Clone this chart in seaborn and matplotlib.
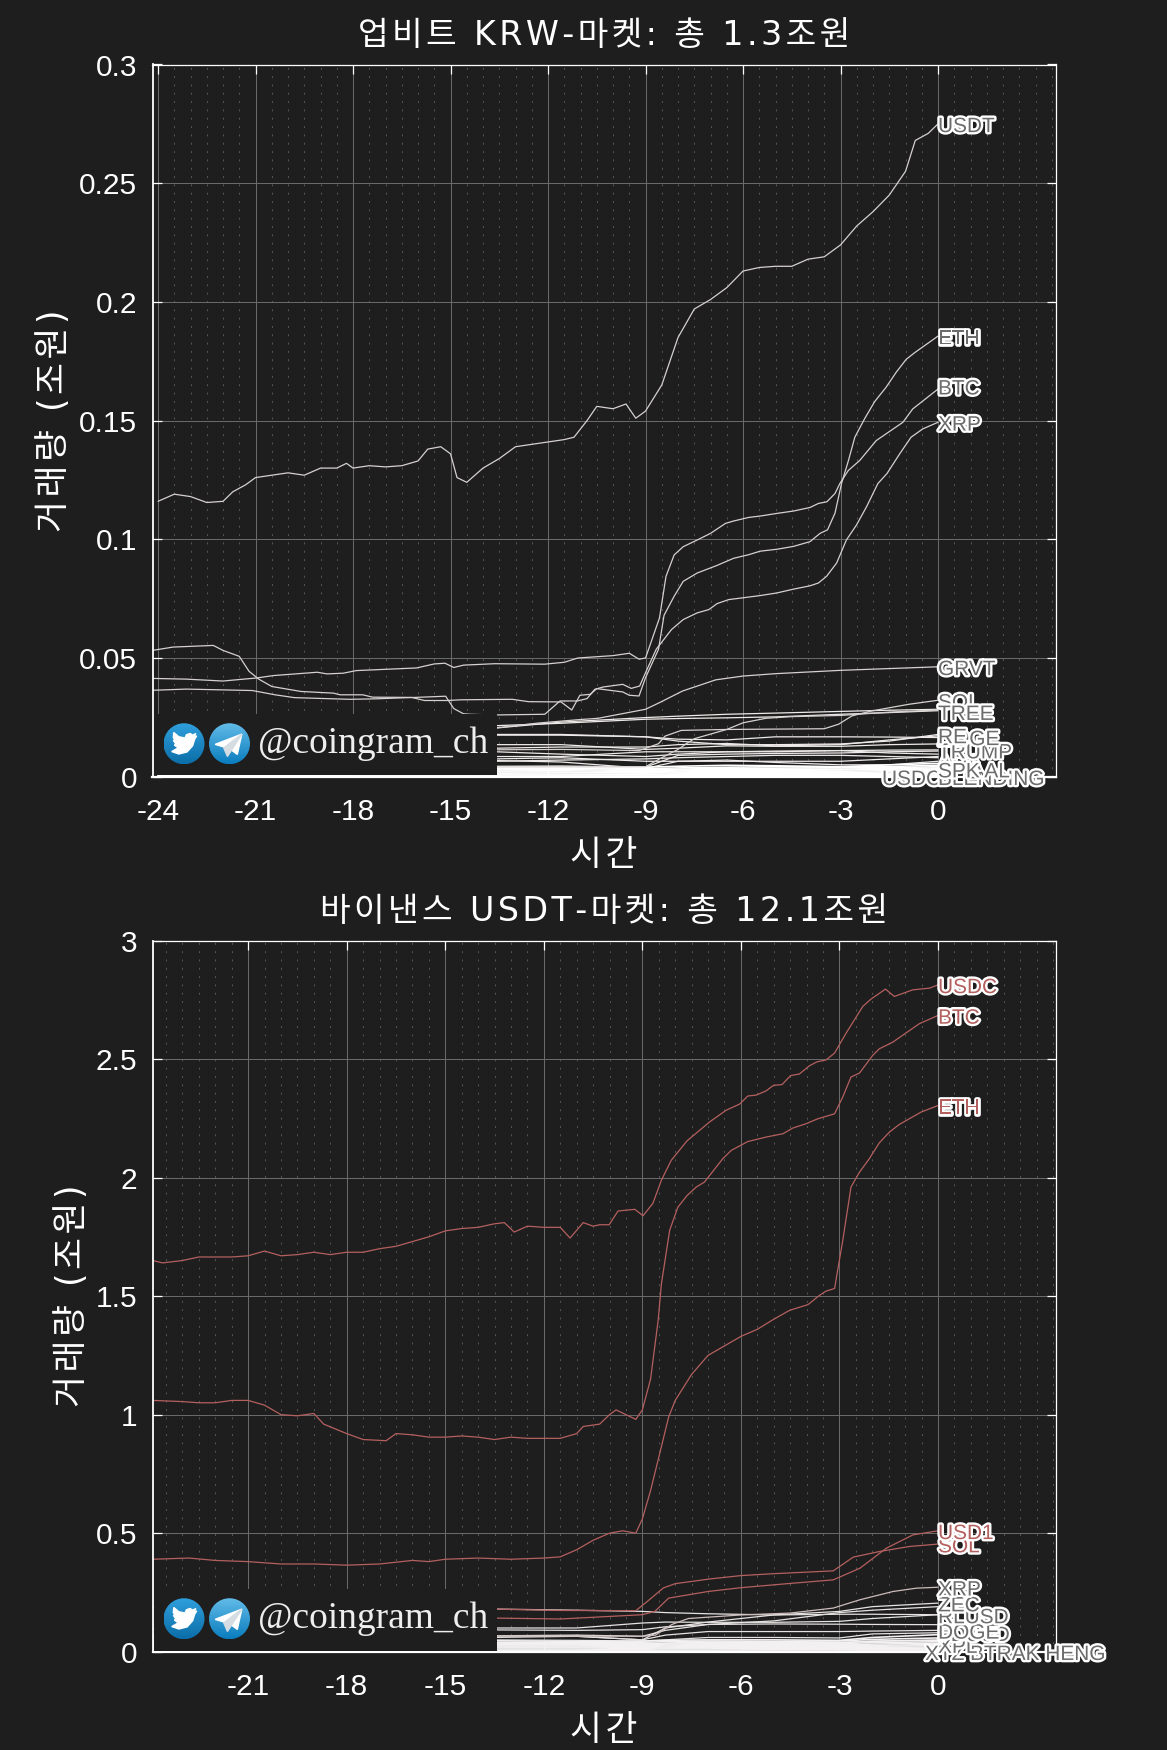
import matplotlib
matplotlib.use('Agg')
import matplotlib.pyplot as plt
import matplotlib.patheffects as pe
from matplotlib.patches import Circle, Polygon
import numpy as np
import seaborn as sns

# --- upbit: labelled series ---
UPBIT_USDT_H = [-24, -23.5, -23, -22.5, -22, -21.7, -21.3, -21, -20.5, -20, -19.5, -19, -18.5, -18.2, -18, -17.5, -17, -16.5, -16, -15.7, -15.3, -15, -14.8, -14.5, -14, -13.5, -13, -12.5, -12, -11.5, -11.2, -10.8, -10.5, -10, -9.6, -9.3, -9, -8.5, -8, -7.5, -7, -6.5, -6, -5.5, -5, -4.5, -4, -3.5, -3, -2.5, -2, -1.5, -1, -0.7, -0.3, 0]
UPBIT_USDT = [.116, .119, .118, .1155, .116, .120, .123, .126, .127, .128, .127, .130, .130, .132, .130, .131, .1305, .131, .133, .138, .139, .136, .126, .124, .130, .134, .139, .140, .141, .142, .143, .150, .156, .155, .157, .151, .154, .165, .185, .197, .201, .206, .213, .2145, .215, .215, .218, .219, .224, .232, .238, .245, .255, .268, .271, .275]
UPBIT_BTC_H = [-24.17, -23.13, -22, -20.96, -20.45, -19.1, -18.8, -18.3, -17.9, -16.05, -15.5, -15.17, -14.9, -14.6, -13.64, -12.1, -11.5, -11.08, -10, -9.5, -9.2, -9, -8.57, -8.37, -8.12, -7.84, -7.41, -7, -6.54, -6.29, -5.83, -5.47, -4.96, -4.45, -3.94, -3.68, -3.42, -3.17, -3.02, -2.76, -2.41, -1.9, -1.08, -.78, 0]
UPBIT_BTC = [.0414, .0411, .0403, .0416, .0426, .044, .0433, .0436, .0447, .0458, .0475, .0478, .046, .047, .0476, .0474, .0482, .05, .051, .052, .0495, .05, .0669, .0844, .0934, .0969, .0997, .1025, .1067, .1077, .1092, .1098, .1109, .1119, .1134, .1151, .1158, .1193, .1235, .129, .1332, .1416, .1493, .1549, .1633]
UPBIT_ETH_H = [-24.17, -23.54, -22.3, -22, -21.5, -21.2, -20.9, -20.5, -19.6, -18.6, -18.4, -17.7, -17.4, -16.2, -15.8, -15.1, -14.66, -13.1, -12.6, -11.6, -11.27, -11.02, -10.7, -10.5, -9.7, -9.5, -9.2, -9, -8.6, -8.43, -8.12, -7.84, -7.41, -6.8, -6.29, -5.83, -5.47, -4.96, -4.45, -3.94, -3.63, -3.4, -3.17, -2.97, -2.76, -2.56, -2.25, -1.95, -1.6, -1.29, -.98, -.72, 0]
UPBIT_ETH = [.0532, .0546, .0553, .0532, .0507, .0444, .0411, .038, .0359, .0352, .0345, .0345, .0335, .0334, .0321, .0321, .0324, .0326, .0316, .0315, .0281, .0343, .0347, .0371, .0357, .0343, .034, .0417, .0537, .068, .076, .0823, .0858, .089, .092, .0935, .095, .0958, .097, .099, .1025, .104, .111, .1235, .133, .143, .151, .158, .164, .1703, .1758, .1786, .1856]
UPBIT_XRP_H = [-24.17, -23.13, -21.1, -20.4, -19.8, -18.1, -17.3, -15.9, -15.15, -14.9, -14.6, -14.4, -13.64, -12.1, -11.63, -11.1, -10.8, -10.56, -10.3, -9.7, -9.44, -9.18, -9, -8.67, -8.2, -7.84, -7.41, -7.05, -6.8, -6.44, -5.98, -5.47, -4.96, -4.45, -3.94, -3.68, -3.43, -3.12, -2.82, -2.51, -2.2, -1.85, -1.57, -1.18, -.83, -.47, 0]
UPBIT_XRP = [.0364, .0369, .0363, .0345, .0333, .0326, .0328, .0335, .0339, .0287, .0265, .0263, .026, .0263, .0319, .0319, .0329, .0368, .0378, .0389, .0372, .0382, .0438, .0537, .062, .0662, .069, .0704, .0729, .0746, .0754, .0763, .0774, .079, .0804, .0816, .0844, .09, .0997, .106, .1137, .1235, .1277, .136, .143, .1465, .1493]
UPBIT_GRVT_H = [-24, -13.64, -12.3, -11.08, -10.46, -9, -8.57, -7.86, -6.84, -6, -5, -3, 0]
UPBIT_GRVT = [.018, .0205, .0226, .024, .0246, .0284, .0312, .0361, .0408, .0424, .0434, .0448, .0463]
UPBIT_SOL_H = [-24, -11.6, -9.2, -8.6, -8.4, -7.9, -6.5, -3.5, -3.06, -2.65, -2.04, -.9, 0]
UPBIT_SOL = [.0105, .0115, .011, .0139, .0171, .0195, .0199, .0202, .0221, .0256, .0277, .0305, .0322]
UPBIT_RISER_H = [-24, -9, -8.5, -8, -7.7, -7.5, -6.5, -6, -5.3, -4.5, -3, -1.5, 0]
UPBIT_RISER = [.004, .0042, .008, .0115, .0143, .016, .0199, .0227, .0246, .0253, .0258, .0272, .0281]

# --- upbit: the flatter lines share one set of hours ---
UPBIT_MINOR_H = [-24, -13.6, -11.6, -9, -8, -6.5, -5, -3, -1.5, 0]
UPBIT_TREE = [.019, .0205, .023, .0249, .0255, .0263, .0268, .0275, .028, .0284]
UPBIT_M01 = [.020, .0215, .0225, .0242, .0245, .0248, .0252, .0263, .027, .0278]
UPBIT_M02 = [.016, .0175, .0175, .0168, .0158, .0155, .0168, .0168, .0167, .0165]
UPBIT_RE = [.018, .0178, .0178, .0168, .0150, .0135, .0135, .0138, .015, .0178]
UPBIT_DOGE = [.012, .012, .0125, .0125, .0135, .014, .013, .0135, .0155, .0172]
UPBIT_M03 = [.011, .0135, .0135, .0115, .012, .013, .0128, .0128, .0135, .0138]
UPBIT_TRUMP = [.009, .0105, .0095, .0085, .0095, .0105, .0108, .0110, .0112, .0113]
UPBIT_M04 = [.007, .0085, .0085, .0105, .0105, .0105, .0105, .0110, .010, .0095]
UPBIT_M05 = [.003, .0030, .0035, .0040, .0090, .0095, .0098, .0100, .0105, .0108]
UPBIT_M06 = [.006, .0065, .0070, .0075, .0080, .0085, .0090, .0090, .0085, .0080]
UPBIT_M07 = [.005, .0075, .0080, .0065, .0065, .0065, .0065, .0065, .0075, .0085]
UPBIT_M08 = [.004, .0068, .0062, .0035, .0065, .0070, .0060, .0050, .0050, .0065]
UPBIT_L01 = [.0042, .0043, .0044, .0040, .0044, .0048, .0046, .0042, .0050, .0056]
UPBIT_L02 = [.0036, .0038, .0040, .0034, .0037, .0040, .0042, .0040, .0043, .0048]
UPBIT_L03 = [.0031, .0034, .0035, .0030, .0032, .0035, .0036, .0037, .0038, .0042]
UPBIT_L04 = [.0026, .0029, .0030, .0026, .0028, .0031, .0031, .0032, .0034, .0037]
UPBIT_L05 = [.0022, .0024, .0025, .0022, .0024, .0026, .0027, .0028, .0030, .0032]
UPBIT_L06 = [.0018, .0020, .0020, .0018, .0020, .0022, .0023, .0023, .0025, .0027]
UPBIT_L07 = [.0014, .0015, .0016, .0015, .0016, .0017, .0018, .0018, .0020, .0022]
UPBIT_L08 = [.0010, .0011, .0011, .0010, .0012, .0013, .0013, .0014, .0015, .0017]
UPBIT_L09 = [.0006, .0007, .0007, .0007, .0008, .0008, .0009, .0009, .0010, .0012]
UPBIT_L10 = [.0003, .0003, .0003, .0003, .0004, .0004, .0004, .0005, .0005, .0006]

# --- binance ---
BIN_USDC_H = [-23.9, -23.6, -23, -22.5, -21.5, -21, -20.5, -20, -19.5, -19, -18.5, -18, -17.5, -17, -16.5, -16, -15.5, -15, -14.5, -14, -13.5, -13.2, -12.9, -12.5, -12, -11.5, -11.2, -10.8, -10.5, -10.3, -10.01, -9.74, -9.23, -8.98, -8.68, -8.42, -8.12, -7.64, -6.95, -6.45, -6.04, -5.79, -5.53, -5.23, -5.01, -4.75, -4.49, -4.22, -3.91, -3.69, -3.41, -3.15, -2.8, -2.29, -2.04, -1.6, -1.33, -.77, -.26, 0]
BIN_USDC = [1.65, 1.64, 1.65, 1.665, 1.665, 1.67, 1.69, 1.67, 1.675, 1.685, 1.675, 1.685, 1.685, 1.70, 1.71, 1.73, 1.75, 1.775, 1.785, 1.79, 1.805, 1.81, 1.77, 1.795, 1.79, 1.79, 1.745, 1.81, 1.795, 1.801, 1.801, 1.859, 1.866, 1.839, 1.891, 1.989, 2.073, 2.155, 2.235, 2.284, 2.31, 2.344, 2.348, 2.366, 2.389, 2.392, 2.43, 2.437, 2.472, 2.488, 2.496, 2.525, 2.609, 2.722, 2.753, 2.795, 2.764, 2.792, 2.799, 2.813]
BIN_BTC_H = [-23.9, -23, -22.5, -22, -21.5, -21, -20.5, -20, -19.5, -19, -18.7, -18, -17.5, -16.8, -16.5, -16, -15.5, -15, -14.5, -14, -13.5, -13, -12.5, -12, -11.5, -11, -10.8, -10.3, -10, -9.8, -9.5, -9.2, -9, -8.75, -8.52, -8.42, -8.17, -7.92, -7.64, -7.36, -7.11, -6.55, -6.29, -5.79, -5.23, -4.72, -4.42, -4.02, -3.66, -3.15, -2.9, -2.65, -2.39, -1.99, -1.79, -1.38, -1.08, -.57, 0]
BIN_BTC = [1.06, 1.055, 1.05, 1.05, 1.06, 1.06, 1.04, 1.0, .995, 1.005, .96, .92, .895, .89, .92, .915, .905, .905, .91, .905, .895, .905, .90, .90, .90, .92, .95, .96, 1.0, 1.02, 1.0, .98, 1.02, 1.15, 1.397, 1.552, 1.777, 1.875, 1.924, 1.96, 1.981, 2.08, 2.115, 2.152, 2.171, 2.185, 2.209, 2.227, 2.248, 2.269, 2.34, 2.424, 2.441, 2.515, 2.543, 2.571, 2.60, 2.649, 2.684]
BIN_ETH_H = [-23.9, -22.8, -22, -21, -20, -19, -18, -17, -16, -15.5, -15, -14, -13, -12, -11.5, -11, -10.5, -10, -9.6, -9.2, -9, -8.75, -8.5, -8.2, -8, -7.5, -7, -6.5, -6, -5.5, -5.03, -4.52, -3.96, -3.61, -3.41, -3.15, -2.9, -2.65, -2.39, -2.09, -1.79, -1.48, -1.18, -.52, 0]
BIN_ETH = [.39, .395, .385, .38, .37, .37, .365, .37, .385, .38, .39, .395, .39, .395, .40, .43, .47, .50, .51, .50, .56, .68, .82, .99, 1.06, 1.17, 1.25, 1.29, 1.33, 1.36, 1.40, 1.44, 1.464, 1.503, 1.521, 1.532, 1.735, 1.96, 2.023, 2.08, 2.146, 2.192, 2.224, 2.276, 2.304]
BIN_USD1_H = [-24, -13.6, -11.5, -9, -8.62, -8.2, -7, -6, -4.5, -3.19, -2.38, -1.57, -.76, 0]
BIN_USD1 = [.14, .142, .138, .156, .17, .226, .254, .27, .288, .303, .352, .437, .493, .51]
BIN_SOL_H = [-24, -13.6, -11.5, -9.2, -8.85, -8.36, -8, -6.94, -6, -5.02, -3.19, -2.58, -1.77, -.86, 0]
BIN_SOL = [.19, .18, .174, .173, .212, .269, .287, .307, .321, .329, .341, .399, .423, .444, .454]
BIN_XRP_H = [-24, -13.6, -9, -8.6, -8.1, -7.6, -6, -4.5, -3.19, -2.38, -1.37, -.66, 0]
BIN_XRP = [.065, .067, .065, .07, .115, .14, .155, .163, .184, .219, .254, .268, .272]

BIN_MINOR_H = [-24, -13.6, -11, -9, -8.3, -7, -5, -3, -2, 0]
BIN_ZEC = [.06, .06, .065, .05, .10, .125, .155, .17, .19, .205]
BIN_RLUSD = [.10, .10, .10, .121, .125, .124, .124, .128, .14, .156]
BIN_DOGE = [.07, .067, .065, .05, .07, .085, .085, .085, .087, .09]
BIN_FDUSD = [.05, .05, .048, .045, .05, .06, .06, .058, .075, .08]
BIN_XPL = [.03, .03, .03, .025, .035, .04, .04, .04, .045, .05]
BIN_M01 = [.07, .067, .07, .065, .09, .115, .13, .165, .175, .19]
BIN_M02 = [.095, .092, .09, .093, .105, .115, .117, .116, .115, .114]
BIN_M03 = [.185, .18, .175, .17, .165, .16, .155, .158, .158, .156]
BIN_L01 = [.046, .046, .044, .045, .048, .050, .050, .048, .060, .072]
BIN_L02 = [.040, .040, .040, .040, .042, .045, .044, .045, .052, .058]
BIN_L03 = [.036, .036, .036, .035, .036, .040, .038, .038, .044, .048]
BIN_L04 = [.032, .032, .032, .030, .032, .034, .034, .034, .038, .042]
BIN_L05 = [.028, .028, .028, .026, .028, .030, .030, .030, .032, .036]
BIN_L06 = [.024, .024, .024, .022, .024, .026, .026, .026, .027, .030]
BIN_L07 = [.020, .020, .020, .018, .020, .022, .022, .022, .023, .025]
BIN_L08 = [.016, .016, .016, .014, .016, .017, .017, .018, .018, .020]
BIN_L09 = [.011, .011, .011, .010, .012, .012, .013, .013, .014, .015]
BIN_L10 = [.006, .006, .006, .006, .007, .007, .008, .008, .009, .010]
BIN_L11 = [.002, .002, .002, .002, .003, .003, .003, .003, .004, .004]

TOP_LABELS = ['USDC', 'BLENDING', 'ADA', 'TRUMP', 'DOGE', 'RE', 'SOL', 'TREE', 'GRVT', 'XRP', 'BTC', 'ETH', 'USDT', 'SPK AL']
TOP_LABEL_Y = [.0, .0, .0065, .0112, .0168, .0176, .0322, .0274, .0463, .1493, .1645, .1856, .275, .0032]
TOP_LABEL_DX = [-56, 0, 0, 0, 0, 0, 0, 0, 0, 0, 0, 0, 0, 0]
BOT_LABELS = ['XTZ', 'BTRAK HENG', 'XPL', 'FDUSD', 'DOGE', 'RLUSD', 'ZEC', 'XRP', 'SOL', 'USD1', 'ETH', 'BTC', 'USDC']
BOT_LABEL_Y = [.0, .0, .03, .08, .09, .155, .205, .272, .454, .51, 2.304, 2.684, 2.813]
BOT_LABEL_DX = [-13, 32, 0, 0, 0, 0, 0, 0, 0, 0, 0, 0, 0]
BOT_RED = ['USD1', 'SOL', 'ETH', 'BTC', 'USDC']

Y_TICKS_TOP = [0, .05, .1, .15, .2, .25, .3]
Y_LABELS_TOP = ['0', '0.05', '0.1', '0.15', '0.2', '0.25', '0.3']
Y_TICKS_BOT = [0, .5, 1, 1.5, 2, 2.5, 3]
Y_LABELS_BOT = ['0', '0.5', '1', '1.5', '2', '2.5', '3']
X_TICKS = [-24, -21, -18, -15, -12, -9, -6, -3, 0]

BG = '#1e1e1e'
LINE = '#d6d0d0'
RED = '#b4605f'
# DejaVu first: its Latin is wide like the original's, Hangul falls through
KR = ['DejaVu Sans', 'Noto Sans CJK KR']
W, H = 1167, 1750

sns.set_theme(style='dark')
plt.rcParams['font.family'] = ['Liberation Sans', 'DejaVu Sans']
plt.rcParams['axes.unicode_minus'] = False

fig = plt.figure(figsize=(W / 100, H / 100), dpi=100, facecolor=BG)


def box(l, t, r, b):
    return [l / W, 1 - b / H, (r - l) / W, (b - t) / H]


def spaced(s):
    # the original text runs wider, so put a hair space between the characters
    return '\u200a'.join(s)


def style_axes(ax, xlim, ylim, yticks, ylabels, title, ylab_x):
    ax.set_facecolor(BG)
    ax.set_xlim(xlim)
    ax.set_ylim(ylim)
    ax.set_xticks([t for t in X_TICKS if t >= xlim[0]])
    ax.set_xticks(np.arange(-24, 4, 0.5), minor=True)
    ax.set_xlim(xlim)
    ax.set_yticks(yticks)
    ax.set_yticklabels(ylabels)
    ax.grid(True, which='major', color='#6c6c6c', lw=0.7)
    ax.grid(True, which='minor', axis='x', color='#666666', lw=0.55, ls=(0, (2.5, 8.4)))
    ax.tick_params(which='major', direction='in', length=6.5, width=0.9, color='white',
                   top=True, right=True, left=True, bottom=True,
                   labelcolor='white', labelsize=21.5, pad=11)
    ax.tick_params(axis='x', which='major', pad=15)
    ax.tick_params(which='minor', length=0)
    for s in ax.spines.values():
        s.set_color('white')
        s.set_linewidth(0.9)
    ax.spines['left'].set_linewidth(1.3)
    ax.spines['bottom'].set_linewidth(1.6)
    ax.set_title(spaced(title), color='white', fontsize=24, family=KR, pad=14)
    ax.set_xlabel(spaced('시간'), color='white', fontsize=25, family=KR, labelpad=9)
    ax.set_ylabel(spaced('거래량 (조원)'), color='white', fontsize=25, family=KR)
    ax.yaxis.set_label_coords(ylab_x, 0.5)


def draw(ax, hours, values, color=LINE, lw=0.9):
    sns.lineplot(x=hours, y=values, ax=ax, color=color, lw=lw, errorbar=None, sort=False)


def draw_labels(ax, names, ys, dxs, red=()):
    for name, y, dx in zip(names, ys, dxs):
        c = RED if name in red else '#6c6c6c'
        ax.annotate(name, xy=(0, y), xytext=(dx * 0.72, -2), textcoords='offset points',
                    color=c, fontsize=15, va='center', ha='left', annotation_clip=False, zorder=6,
                    path_effects=[pe.withStroke(linewidth=3.4, foreground='white')])


def gradient_circle(ax, cx, cy, r, top, bottom):
    c0 = np.array(matplotlib.colors.to_rgb(top))
    c1 = np.array(matplotlib.colors.to_rgb(bottom))
    t = np.linspace(0, 1, 64)[:, None, None]
    img = (c0[None, None, :] * (1 - t) + c1[None, None, :] * t)
    im = ax.imshow(img, extent=(cx - r, cx + r, cy + r, cy - r), aspect='auto', zorder=2)
    im.set_clip_path(Circle((cx, cy), r, transform=ax.transData))


def badge(top, bottom):
    # twitter / telegram badge that hides the lines under it
    wm = fig.add_axes(box(154, top, 497, bottom), zorder=5)
    wm.set_facecolor(BG)
    wm.axis('on')
    for s in wm.spines.values():
        s.set_visible(False)
    wm.set_xticks([])
    wm.set_yticks([])
    cy = (top + bottom) / 2 - 1
    gradient_circle(wm, 184, cy, 20.5, '#2f9fdc', '#0c6ea8')
    gradient_circle(wm, 229.5, cy, 20.5, '#62bbe8', '#0a7dbe')
    bird = [(.62, .38), (.48, .34), (.58, .50), (.42, .42), (.30, .50), (.12, .44), (.05, .28), (-.25, .34),
            (-.50, .55), (-.52, .30), (-.42, .15), (-.52, .17), (-.38, -.05), (-.47, -.06), (-.28, -.2),
            (-.60, -.38), (-.25, -.50), (.15, -.40), (.42, -.10), (.52, .22)]
    wm.add_patch(Polygon([(184 + 20.5 * x, cy - 20.5 * y) for x, y in bird], color='white', zorder=3))
    plane = [(-.70, -.03), (.60, .47), (.38, -.52), (.02, -.25)]
    wm.add_patch(Polygon([(229.5 + 20.5 * x, cy - 20.5 * y) for x, y in plane], color='white', zorder=3))
    fold = [(-.28, -.20), (.60, .47), (-.10, -.62)]
    wm.add_patch(Polygon([(229.5 + 20.5 * x, cy - 20.5 * y) for x, y in fold], color='#d5dde2', zorder=4))
    wm.text(258, cy + 9, '@coingram_ch', color='#eeeeee', fontsize=27, family='Liberation Serif',
            va='baseline', ha='left', zorder=4)
    wm.set_xlim(154, 497)
    wm.set_ylim(bottom, top)


# top panel
ax1 = fig.add_axes(box(152.5, 64.5, 1056, 776.7))
style_axes(ax1, (-24.17, 3.63), (0, .3), Y_TICKS_TOP, Y_LABELS_TOP, '업비트 KRW-마켓: 총 1.3조원', -0.09)
for row in [UPBIT_TREE, UPBIT_M01, UPBIT_M02, UPBIT_RE, UPBIT_DOGE, UPBIT_M03, UPBIT_TRUMP, UPBIT_M04,
            UPBIT_M05, UPBIT_M06, UPBIT_M07, UPBIT_M08]:
    draw(ax1, UPBIT_MINOR_H, row, color='#efeaea')
for row in [UPBIT_L01, UPBIT_L02, UPBIT_L03, UPBIT_L04, UPBIT_L05, UPBIT_L06, UPBIT_L07, UPBIT_L08,
            UPBIT_L09, UPBIT_L10]:
    draw(ax1, UPBIT_MINOR_H, row, color='white', lw=1.2)
draw(ax1, UPBIT_RISER_H, UPBIT_RISER)
draw(ax1, UPBIT_SOL_H, UPBIT_SOL)
draw(ax1, UPBIT_GRVT_H, UPBIT_GRVT)
draw(ax1, UPBIT_XRP_H, UPBIT_XRP)
draw(ax1, UPBIT_BTC_H, UPBIT_BTC)
draw(ax1, UPBIT_ETH_H, UPBIT_ETH)
draw(ax1, UPBIT_USDT_H, UPBIT_USDT)
draw_labels(ax1, TOP_LABELS, TOP_LABEL_Y, TOP_LABEL_DX)

# bottom panel
ax2 = fig.add_axes(box(152.5, 940.5, 1056, 1651.7))
style_axes(ax2, (-23.91, 3.59), (0, 3), Y_TICKS_BOT, Y_LABELS_BOT, '바이낸스 USDT-마켓: 총 12.1조원', -0.07)
for row in [BIN_ZEC, BIN_RLUSD, BIN_DOGE, BIN_FDUSD, BIN_XPL, BIN_M01, BIN_M02, BIN_M03]:
    draw(ax2, BIN_MINOR_H, row, color='#e6e2e2')
for row in [BIN_L01, BIN_L02, BIN_L03, BIN_L04, BIN_L05, BIN_L06, BIN_L07, BIN_L08, BIN_L09, BIN_L10, BIN_L11]:
    draw(ax2, BIN_MINOR_H, row, color='#f2f0f0', lw=1.2)
draw(ax2, BIN_XRP_H, BIN_XRP, color='#cdbcbc')
draw(ax2, BIN_SOL_H, BIN_SOL, color=RED)
draw(ax2, BIN_USD1_H, BIN_USD1, color=RED)
draw(ax2, BIN_ETH_H, BIN_ETH, color=RED)
draw(ax2, BIN_BTC_H, BIN_BTC, color=RED)
draw(ax2, BIN_USDC_H, BIN_USDC, color=RED)
draw_labels(ax2, BOT_LABELS, BOT_LABEL_Y, BOT_LABEL_DX, red=BOT_RED)

badge(714, 775.5)
badge(1589, 1650.5)

fig.savefig('out.png', dpi=100, facecolor=BG)
